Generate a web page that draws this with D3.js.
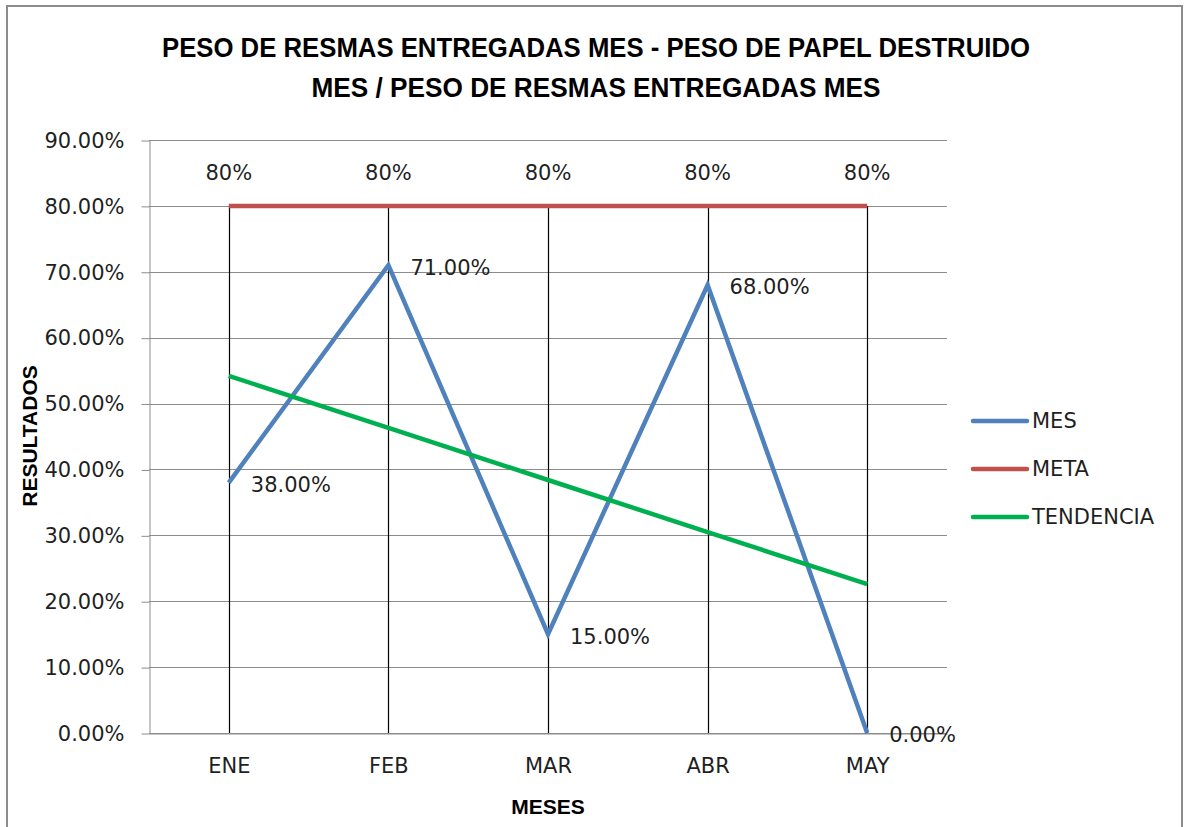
<!DOCTYPE html>
<html>
<head>
<meta charset="utf-8">
<script src="https://cdn.jsdelivr.net/npm/d3@7"></script>
<style>
  body { margin: 0; background: #fff; }
  svg { display: block; }
  text { font-family: "DejaVu Sans", sans-serif; fill: #1f1f1f; }
  .bold { font-family: "Liberation Sans", Arial, sans-serif; font-weight: bold; fill: #000; }
</style>
</head>
<body>
<svg id="chart" width="1186" height="827"></svg>
<script>
// data
var meses = ["ENE", "FEB", "MAR", "ABR", "MAY"];
var mes = [0.38, 0.71, 0.15, 0.68, 0.00];
var meta = [0.80, 0.80, 0.80, 0.80, 0.80];
var tendencia = [0.542, 0.463, 0.384, 0.305, 0.226];
var yTicks = [0, 0.1, 0.2, 0.3, 0.4, 0.5, 0.6, 0.7, 0.8, 0.9];
var titleLines = ["PESO DE RESMAS ENTREGADAS MES - PESO DE PAPEL DESTRUIDO",
                  "MES / PESO DE RESMAS ENTREGADAS MES"];

var svg = d3.select("#chart");
var plotLeft = 149, plotRight = 947, plotTop = 140, plotBottom = 733;

var x = d3.scalePoint().domain(meses).range([plotLeft, plotRight]).padding(0.5);
var y = d3.scaleLinear().domain([0, 0.9]).range([plotBottom, plotTop]);

// chart border
svg.append("rect")
  .attr("x", 7).attr("y", 6).attr("width", 1175).attr("height", 840)
  .attr("fill", "none").attr("stroke", "#8c8c8c").attr("stroke-width", 2);

// title
svg.selectAll(".title").data(titleLines).enter().append("text")
  .attr("class", "bold")
  .attr("x", 596).attr("y", function(d, i) { return 57 + i * 40; })
  .attr("text-anchor", "middle")
  .attr("font-size", 27)
  .attr("textLength", function(d, i) { return i == 0 ? 868 : 569; })
  .attr("lengthAdjust", "spacingAndGlyphs")
  .text(function(d) { return d; });

// gridlines
svg.append("g").selectAll("line").data(yTicks).enter().append("line")
  .attr("x1", plotLeft).attr("x2", plotRight)
  .attr("y1", function(d) { return Math.round(y(d)) + 0.5; })
  .attr("y2", function(d) { return Math.round(y(d)) + 0.5; })
  .attr("stroke", "#8c8c8c").attr("stroke-width", 1);

// y axis
var yAxis = svg.append("g")
  .attr("transform", "translate(" + (plotLeft + 0.5) + ",0.5)")
  .call(d3.axisLeft(y).tickValues(yTicks).tickFormat(d3.format(".2%")).tickSizeInner(8).tickSizeOuter(0).tickPadding(17));
yAxis.select(".domain").attr("stroke", "#8c8c8c");
yAxis.selectAll(".tick line").attr("stroke", "#8c8c8c");
yAxis.selectAll(".tick text").attr("font-size", 21).attr("fill", "#1f1f1f")
  .attr("font-family", "DejaVu Sans, sans-serif");

// x axis
var xAxis = svg.append("g")
  .attr("transform", "translate(0," + (plotBottom + 0.5) + ")")
  .call(d3.axisBottom(x).tickSize(0).tickPadding(25));
xAxis.select(".domain").attr("stroke", "#8c8c8c");
xAxis.selectAll(".tick text").attr("font-size", 21).attr("fill", "#1f1f1f")
  .attr("font-family", "DejaVu Sans, sans-serif");

// axis titles
svg.append("text").attr("class", "bold")
  .attr("transform", "translate(37,436) rotate(-90)")
  .attr("text-anchor", "middle").attr("font-size", 21)
  .text("RESULTADOS");
svg.append("text").attr("class", "bold")
  .attr("x", 548).attr("y", 814)
  .attr("text-anchor", "middle").attr("font-size", 21)
  .text("MESES");

// drop lines from highest value to axis
svg.append("g").selectAll("line").data(meses).enter().append("line")
  .attr("x1", function(d) { return Math.round(x(d)) + 0.5; })
  .attr("x2", function(d) { return Math.round(x(d)) + 0.5; })
  .attr("y1", function(d, i) { return y(Math.max(mes[i], meta[i], tendencia[i])); })
  .attr("y2", y(0))
  .attr("stroke", "#000").attr("stroke-width", 1.2);

var series = [
  {name: "MES", values: mes, color: "#4f81bd"},
  {name: "META", values: meta, color: "#c0504d"},
  {name: "TENDENCIA", values: tendencia, color: "#00b050"}
];

var line = d3.line()
  .x(function(d, i) { return x(meses[i]); })
  .y(function(d) { return y(d); });

svg.append("g").selectAll("path").data(series).enter().append("path")
  .attr("d", function(s) { return line(s.values); })
  .attr("fill", "none")
  .attr("stroke", function(s) { return s.color; })
  .attr("stroke-width", 4.5)
  .attr("stroke-linejoin", "miter");

// data labels
svg.append("g").selectAll("text").data(meta).enter().append("text")
  .attr("x", function(d, i) { return x(meses[i]); })
  .attr("y", function(d) { return y(d) - 33; })
  .attr("dy", "0.35em")
  .attr("text-anchor", "middle").attr("font-size", 21)
  .text(d3.format(".0%"));

svg.append("g").selectAll("text").data(mes).enter().append("text")
  .attr("x", function(d, i) { return x(meses[i]) + 22; })
  .attr("y", function(d) { return y(d) + 2; })
  .attr("dy", "0.35em")
  .attr("font-size", 21)
  .text(d3.format(".2%"));

// legend
var legend = svg.append("g").selectAll("g").data(series).enter().append("g")
  .attr("transform", function(d, i) { return "translate(973," + (421 + i * 48) + ")"; });
legend.append("line")
  .attr("x1", 0).attr("x2", 54)
  .attr("stroke", function(d) { return d.color; })
  .attr("stroke-width", 4.5).attr("stroke-linecap", "round");
legend.append("text")
  .attr("x", 59).attr("dy", "0.35em").attr("font-size", 21)
  .text(function(d) { return d.name; });
</script>
</body>
</html>
